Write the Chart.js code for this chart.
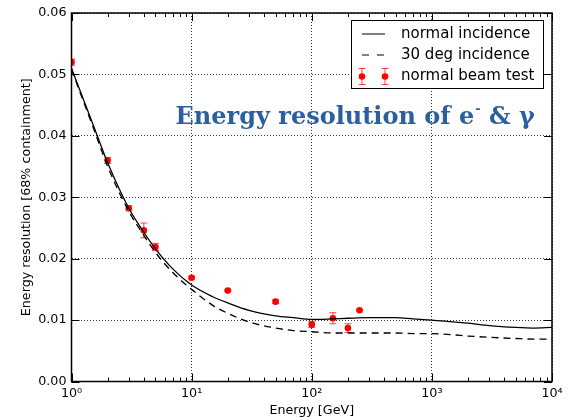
<!DOCTYPE html>
<html><head><meta charset="utf-8">
<script src="https://cdn.jsdelivr.net/npm/chart.js@4.4.1/dist/chart.umd.min.js"></script>
<style>html,body{margin:0;padding:0;background:#fff;}#wrap{width:572px;height:420px;position:relative;}</style>
</head><body><div id="wrap"><canvas id="c" width="572" height="420"></canvas></div>
<script>
// ---- data ----
const curveEnergies = [1, 1.5, 2, 3, 4, 5, 7, 10, 15, 20, 30, 50, 70, 100, 150, 200, 300, 500, 700, 1000, 1500, 2000, 3000, 5000, 7000, 10000];
const normalIncidence = [0.0510, 0.0420, 0.0356, 0.0282, 0.0243, 0.0216, 0.0183, 0.0157, 0.0138, 0.0128, 0.0116, 0.0107, 0.0104, 0.0101, 0.0102, 0.0103, 0.0104, 0.0104, 0.0102, 0.0100, 0.0097, 0.0095, 0.0091, 0.0088, 0.0087, 0.0088];
const deg30Incidence = [0.0508, 0.0416, 0.0350, 0.0277, 0.0238, 0.0210, 0.0177, 0.0150, 0.0124, 0.0111, 0.0097, 0.0087, 0.0083, 0.0081, 0.0079, 0.0079, 0.0079, 0.0079, 0.0078, 0.0078, 0.0076, 0.0074, 0.0072, 0.0070, 0.0069, 0.0069];
const beamEnergies = [1, 2, 3, 4, 5, 10, 20, 50, 100, 150, 200, 250];
const beamValues = [0.0520, 0.0360, 0.0282, 0.0246, 0.0219, 0.0169, 0.0148, 0.0130, 0.0093, 0.0103, 0.0087, 0.0116];
const beamErrors = [0.0005, 0.0005, 0.0004, 0.0012, 0.0006, 0.0002, 0.0001, 0.0003, 0.0005, 0.0009, 0.0007, 0.0001];
const xTickValues = [1, 10, 100, 1000, 10000];
const xTickLabels = ['10⁰', '10¹', '10²', '10³', '10⁴'];
const yTickLabels = ['0.00', '0.01', '0.02', '0.03', '0.04', '0.05', '0.06'];
const seriesNames = ['normal incidence', '30 deg incidence', 'normal beam test'];
const xAxisTitle = 'Energy [GeV]';
const yAxisTitle = 'Energy resolution [68% containment]';
const annotationText = ['Energy resolution of e', '-', ' & γ'];

const FONT = 'DejaVu Sans';
const toXY = (xs, ys) => xs.map((x, i) => ({x: x, y: ys[i]}));

const decor = {
  id: 'decor',
  beforeDatasetsDraw(chart) {
    const {ctx, chartArea: a, scales: {x, y}} = chart;
    ctx.save();
    ctx.beginPath(); ctx.rect(a.left, a.top, a.right - a.left, a.bottom - a.top); ctx.clip();
    ctx.strokeStyle = 'rgba(255,0,0,0.75)'; ctx.lineWidth = 1;
    beamEnergies.forEach((e, i) => {
      const px = x.getPixelForValue(e);
      const y1 = y.getPixelForValue(beamValues[i] - beamErrors[i]);
      const y2 = y.getPixelForValue(beamValues[i] + beamErrors[i]);
      ctx.beginPath();
      ctx.moveTo(px, y1); ctx.lineTo(px, y2);
      ctx.moveTo(px - 3.5, y1); ctx.lineTo(px + 3.5, y1);
      ctx.moveTo(px - 3.5, y2); ctx.lineTo(px + 3.5, y2);
      ctx.stroke();
    });
    ctx.restore();
  },
  afterDraw(chart) {
    const {ctx, chartArea: a, scales: {x, y}} = chart;
    ctx.save();
    // ticks (inward, all four sides)
    ctx.strokeStyle = '#000'; ctx.lineWidth = 1;
    ctx.beginPath();
    for (let d = 0; d < xTickValues.length; d++) {
      const base = xTickValues[d];
      const px = Math.round(x.getPixelForValue(base)) + 0.5;
      ctx.moveTo(px, a.bottom); ctx.lineTo(px, a.bottom - 8);
      ctx.moveTo(px, a.top); ctx.lineTo(px, a.top + 8);
      if (d < xTickValues.length - 1) {
        for (let m = 2; m <= 9; m++) {
          const mx = Math.round(x.getPixelForValue(base * m)) + 0.5;
          ctx.moveTo(mx, a.bottom); ctx.lineTo(mx, a.bottom - 4);
          ctx.moveTo(mx, a.top); ctx.lineTo(mx, a.top + 4);
        }
      }
    }
    y.ticks.forEach(t => {
      const py = Math.round(y.getPixelForValue(t.value)) + 0.5;
      ctx.moveTo(a.left, py); ctx.lineTo(a.left + 8, py);
      ctx.moveTo(a.right, py); ctx.lineTo(a.right - 8, py);
    });
    ctx.stroke();
    // frame
    ctx.lineWidth = 1.5;
    ctx.strokeRect(a.left, a.top, a.right - a.left, a.bottom - a.top);

    // legend
    const lw = 192, lh = 68;
    const lx = a.right - 9 - lw, ly = a.top + 7;
    ctx.fillStyle = '#fff';
    ctx.fillRect(lx, ly, lw, lh);
    ctx.lineWidth = 1; ctx.strokeStyle = '#000';
    ctx.strokeRect(Math.round(lx) + 0.5, Math.round(ly) + 0.5, lw, lh);
    const rows = [ly + 14, ly + 35, ly + 56.5];
    const sx1 = lx + 11, sx2 = lx + 34;
    ctx.lineWidth = 1;
    ctx.beginPath(); ctx.moveTo(sx1, rows[0]); ctx.lineTo(sx2, rows[0]); ctx.stroke();
    ctx.setLineDash([7, 8]);
    ctx.beginPath(); ctx.moveTo(sx1, rows[1]); ctx.lineTo(sx2, rows[1]); ctx.stroke();
    ctx.setLineDash([]);
    [sx1, sx2].forEach(px => {
      ctx.strokeStyle = 'rgba(255,0,0,0.75)';
      ctx.beginPath();
      ctx.moveTo(px, rows[2] - 8); ctx.lineTo(px, rows[2] + 8);
      ctx.moveTo(px - 3.5, rows[2] - 8); ctx.lineTo(px + 3.5, rows[2] - 8);
      ctx.moveTo(px - 3.5, rows[2] + 8); ctx.lineTo(px + 3.5, rows[2] + 8);
      ctx.stroke();
      ctx.fillStyle = '#ff0000';
      ctx.beginPath(); ctx.arc(px, rows[2], 3.3, 0, Math.PI * 2); ctx.fill();
    });
    ctx.fillStyle = '#000';
    ctx.font = '15px "' + FONT + '"';
    ctx.textBaseline = 'middle'; ctx.textAlign = 'left';
    seriesNames.forEach((s, i) => ctx.fillText(s, lx + 50, rows[i]));

    // annotation title
    ctx.fillStyle = '#2b5f9e';
    const fs = 24;
    ctx.font = 'bold ' + fs + 'px "DejaVu Serif"';
    ctx.textBaseline = 'alphabetic';
    let tx = a.left + 104; const tb = a.top + 111;
    ctx.fillText(annotationText[0], tx, tb);
    tx += ctx.measureText(annotationText[0]).width;
    ctx.font = 'bold ' + Math.round(fs * 0.55) + 'px "DejaVu Serif"';
    ctx.fillText(annotationText[1], tx + 1, tb - 11);
    tx += ctx.measureText(annotationText[1]).width + 1;
    ctx.font = 'bold ' + fs + 'px "DejaVu Serif"';
    ctx.fillText(annotationText[2], tx, tb);
    ctx.restore();
  }
};

new Chart(document.getElementById('c'), {
  type: 'line',
  data: {
    datasets: [
      {label: seriesNames[0], data: toXY(curveEnergies, normalIncidence), borderColor: '#000', borderWidth: 1.3, pointRadius: 0, tension: 0.4, cubicInterpolationMode: 'monotone', fill: false, clip: 0},
      {label: seriesNames[1], data: toXY(curveEnergies, deg30Incidence), borderColor: '#000', borderWidth: 1.3, borderDash: [7, 5], pointRadius: 0, cubicInterpolationMode: 'monotone', fill: false, clip: 0},
      {label: seriesNames[2], type: 'scatter', data: toXY(beamEnergies, beamValues), showLine: false, pointRadius: 3.3, pointBackgroundColor: '#ff0000', pointBorderColor: '#ff0000', pointBorderWidth: 0, clip: 0}
    ]
  },
  options: {
    responsive: false, animation: false, devicePixelRatio: 1,
    layout: {padding: {top: 13, right: 20, left: 0, bottom: 0}},
    plugins: {legend: {display: false}, tooltip: {enabled: false}},
    scales: {
      x: {
        type: 'logarithmic', min: 1, max: 10000,
        afterBuildTicks: s => { s.ticks = xTickValues.map(v => ({value: v})); },
        afterFit: s => { s.height = 38.5; },
        ticks: {callback: (v) => xTickLabels[xTickValues.indexOf(v)], color: '#000', font: {family: FONT, size: 12.7}, padding: 5, maxRotation: 0, autoSkip: false},
        grid: {color: '#000', lineWidth: 0.8, drawTicks: false},
        border: {display: false, dash: [1, 2]},
        title: {display: true, text: xAxisTitle, color: '#000', font: {family: FONT, size: 12.7}, padding: {top: 0, bottom: 1.4}}
      },
      y: {
        type: 'linear', min: 0, max: 0.06,
        afterBuildTicks: s => { s.ticks = yTickLabels.map(v => ({value: parseFloat(v)})); },
        afterFit: s => { s.width = 71.5; },
        ticks: {callback: (v, i) => yTickLabels[i], color: '#000', font: {family: FONT, size: 12.7}, padding: 5},
        grid: {color: '#000', lineWidth: 0.8, drawTicks: false},
        border: {display: false, dash: [1, 2]},
        title: {display: true, text: yAxisTitle, color: '#000', font: {family: FONT, size: 12.7}, padding: {top: 19, bottom: 0}}
      }
    }
  },
  plugins: [decor]
});
</script></body></html>
